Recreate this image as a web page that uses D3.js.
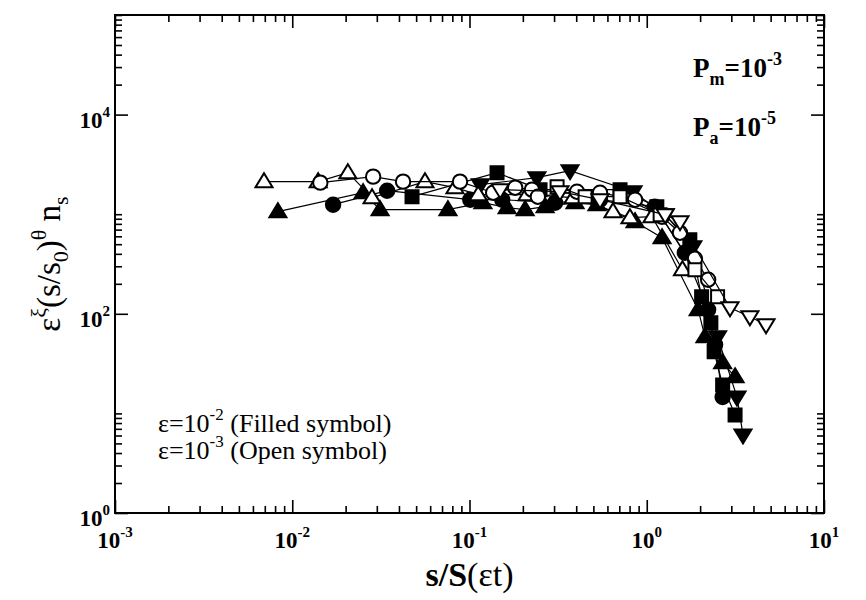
<!DOCTYPE html>
<html>
<head>
<meta charset="utf-8">
<script src="https://cdn.jsdelivr.net/npm/d3@7"></script>
<style>
  body { margin: 0; background: #fff; }
  svg { display: block; }
  text { font-family: "Liberation Serif", "Times New Roman", serif; fill: #000; }
</style>
</head>
<body>
<svg id="chart" width="866" height="600"></svg>
<script>
// values: [s/S(et), scaled n_s]
var filledTriUp = [[0.0083,1060],[0.0251,1644],[0.0313,1110],[0.0756,1110],[0.119,1305],[0.163,1163],[0.206,1110],[0.267,1190],[0.394,1305],[0.524,1246],[0.859,841],[1.22,580],[1.95,110],[2.13,58.7],[2.68,32.2],[3.15,23.3]];
var filledCircle = [[0.0170,1246],[0.0343,1722],[0.101,1399],[0.153,1399],[0.304,1305],[0.545,1399],[1.11,1190],[1.64,410],[2.22,110],[2.43,48.8],[2.68,14.6]];
var filledSquare = [[0.0474,1499],[0.143,2613],[0.250,1763],[0.707,1763],[1.14,1190],[1.75,554],[2.04,148],[2.30,81.2],[2.40,41.5],[2.68,19.3],[3.15,9.66]];
var filledTriDown = [[0.115,1978],[0.240,2328],[0.369,2736],[0.837,1683],[1.27,989],[1.82,471],[2.51,58.7],[3.23,14.6],[3.49,6.08]];
var openTriUp = [[0.00693,2122],[0.0140,2122],[0.0206,2613],[0.0282,1465],[0.0561,2122],[0.0828,1846],[0.112,1570],[0.211,1570],[0.384,1465],[0.645,1060],[0.804,922],[1.07,944],[1.59,277]];
var openCircle = [[0.0144,2074],[0.0286,2383],[0.0422,2122],[0.0884,2122],[0.136,1644],[0.181,1846],[0.225,1763],[0.243,1499],[0.404,1683],[0.545,1644],[0.859,1399],[1.22,944],[1.54,652],[1.87,357],[2.22,220]];
var openSquare = [[0.312,1889],[0.449,1499],[0.707,1499],[1.19,989],[1.87,277],[2.51,148]];
var openTriDown = [[0.149,1763],[0.324,1683],[0.545,1399],[1.27,989],[1.54,841],[2.95,115],[3.82,93.3],[4.71,77.5]];

var xMajor = [1e-3, 1e-2, 1e-1, 1, 10];
var xMajorExp = ["-3", "-2", "-1", "0", "1"];
var yMajor = [1, 100, 1e4];
var yMajorExp = ["0", "2", "4"];

var svg = d3.select("#chart");
// note: "top" is taken by window.top, so plot edges get a prefix
var pLeft = 115, pRight = 824, pTop = 15, pBottom = 513;

var x = d3.scaleLog().domain([1e-3, 10]).range([pLeft, pRight]);
var y = d3.scaleLog().domain([1, 1e5]).range([pBottom, pTop]);

// minor ticks: 2..9 in every x decade, 2..10 in every second y decade (as the plot does)
var xMinor = [];
for (var d = -3; d < 1; d++) {
  for (var k = 2; k <= 9; k++) xMinor.push(k * Math.pow(10, d));
}
var yMinor = [];
for (var e = 0; e <= 4; e += 2) {
  for (var k2 = 2; k2 <= 10; k2++) yMinor.push(k2 * Math.pow(10, e));
}

function addAxis(gen, tr) {
  var g = svg.append("g").attr("transform", tr).call(gen);
  g.select(".domain").remove();
  g.selectAll(".tick line").attr("stroke", "#000").attr("stroke-width", 1.6);
  return g;
}

addAxis(d3.axisBottom(x).tickValues(xMinor).tickSize(-7).tickFormat(""), "translate(0," + pBottom + ")");
addAxis(d3.axisBottom(x).tickValues(xMajor).tickSize(-13).tickFormat(""), "translate(0," + pBottom + ")");
addAxis(d3.axisTop(x).tickValues(xMinor).tickSize(-7).tickFormat(""), "translate(0," + pTop + ")");
addAxis(d3.axisTop(x).tickValues(xMajor).tickSize(-13).tickFormat(""), "translate(0," + pTop + ")");
addAxis(d3.axisLeft(y).tickValues(yMinor).tickSize(-7).tickFormat(""), "translate(" + pLeft + ",0)");
addAxis(d3.axisLeft(y).tickValues(yMajor).tickSize(-13).tickFormat(""), "translate(" + pLeft + ",0)");
addAxis(d3.axisRight(y).tickValues(yMinor).tickSize(-7).tickFormat(""), "translate(" + pRight + ",0)");
addAxis(d3.axisRight(y).tickValues(yMajor).tickSize(-13).tickFormat(""), "translate(" + pRight + ",0)");

svg.append("rect")
  .attr("x", pLeft).attr("y", pTop)
  .attr("width", pRight - pLeft).attr("height", pBottom - pTop)
  .attr("fill", "none").attr("stroke", "#000").attr("stroke-width", 2);

// tick labels, 10 with a raised exponent
xMajor.forEach(function(v, i) {
  var t = svg.append("text")
    .attr("x", x(v)).attr("y", 548)
    .attr("text-anchor", "middle")
    .style("font-weight", "bold").style("font-size", "23px");
  t.append("tspan").text("10");
  t.append("tspan").attr("dy", -11).style("font-size", "15px").text(xMajorExp[i]);
});
yMajor.forEach(function(v, i) {
  var t = svg.append("text")
    .attr("x", pLeft - 5).attr("y", y(v) + 13)
    .attr("text-anchor", "end")
    .style("font-weight", "bold").style("font-size", "23px");
  t.append("tspan").text("10");
  t.append("tspan").attr("dy", -11).style("font-size", "15px").text(yMajorExp[i]);
});

// axis titles
var xt = svg.append("text")
  .attr("x", (pLeft + pRight) / 2).attr("y", 586)
  .attr("text-anchor", "middle").style("font-size", "34px");
xt.append("tspan").style("font-weight", "bold").text("s/S");
xt.append("tspan").text("(\u03b5t)");

var yt = svg.append("text")
  .attr("transform", "translate(60," + (pTop + pBottom) / 2 + ") rotate(-90)")
  .attr("text-anchor", "middle").style("font-size", "33px");
yt.append("tspan").text("\u03b5");
yt.append("tspan").attr("dy", -14).style("font-size", "22px").text("\u03be");
yt.append("tspan").attr("dy", 14).text("(s/s");
yt.append("tspan").attr("dy", 8).style("font-size", "22px").text("0");
yt.append("tspan").attr("dy", -8).text(")");
yt.append("tspan").attr("dy", -14).style("font-size", "22px").text("\u03b8");
yt.append("tspan").attr("dy", 14).text(" n");
yt.append("tspan").attr("dy", 8).style("font-size", "22px").text("s");

// parameter labels
function paramLabel(sub, exp, yy) {
  var t = svg.append("text").attr("x", 693).attr("y", yy)
    .style("font-weight", "bold").style("font-size", "27px");
  t.append("tspan").text("P");
  t.append("tspan").attr("dy", 8).style("font-size", "18px").text(sub);
  t.append("tspan").attr("dy", -8).text("=10");
  t.append("tspan").attr("dy", -12).style("font-size", "18px").text(exp);
}
paramLabel("m", "-3", 77);
paramLabel("a", "-5", 136);

// legend text
function legendLine(exp, label, yy) {
  var t = svg.append("text").attr("x", 158).attr("y", yy).style("font-size", "26px");
  t.append("tspan").text("\u03b5=10");
  t.append("tspan").attr("dy", -12).style("font-size", "17px").text(exp);
  t.append("tspan").attr("dy", 12).text(" " + label);
}
legendLine("-2", "(Filled symbol)", 432);
legendLine("-3", "(Open symbol)", 459);

// series
var series = [
  { values: filledTriUp, shape: "triUp", filled: true },
  { values: filledCircle, shape: "circle", filled: true },
  { values: filledSquare, shape: "square", filled: true },
  { values: filledTriDown, shape: "triDown", filled: true },
  { values: openTriUp, shape: "triUp", filled: false },
  { values: openCircle, shape: "circle", filled: false },
  { values: openSquare, shape: "square", filled: false },
  { values: openTriDown, shape: "triDown", filled: false }
];

var shapes = {
  triUp: "M0,-8.5L8.5,5.5L-8.5,5.5Z",
  triDown: "M0,8.5L8.5,-5.5L-8.5,-5.5Z",
  square: "M-6.5,-6.5H6.5V6.5H-6.5Z",
  circle: d3.symbol(d3.symbolCircle, Math.PI * 7.2 * 7.2)()
};

var line = d3.line().x(function(p) { return x(p[0]); }).y(function(p) { return y(p[1]); });

series.forEach(function(s) {
  svg.append("path")
    .datum(s.values)
    .attr("d", line)
    .attr("fill", "none").attr("stroke", "#000").attr("stroke-width", 1.2);
  svg.append("g").selectAll("path")
    .data(s.values)
    .enter().append("path")
    .attr("transform", function(p) { return "translate(" + x(p[0]) + "," + y(p[1]) + ")"; })
    .attr("d", shapes[s.shape])
    .attr("fill", s.filled ? "#000" : "#fff")
    .attr("stroke", "#000").attr("stroke-width", 2);
});
</script>
</body>
</html>
